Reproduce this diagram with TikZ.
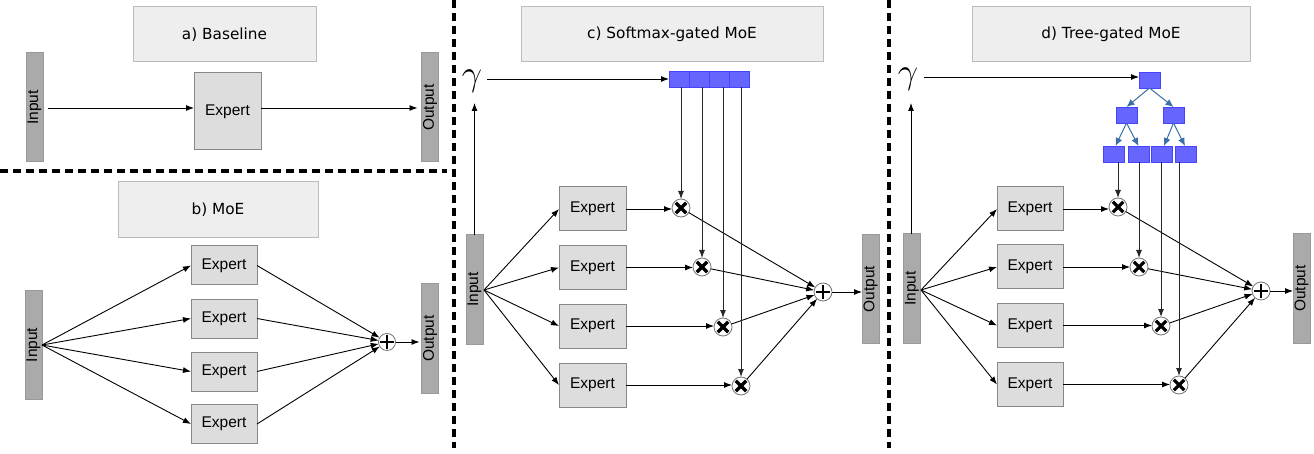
\documentclass[tikz,border=0pt]{standalone}
\usepackage{fontspec}
\setmainfont{Liberation Sans}
\newfontfamily\titlefont{DejaVu Sans}
\usetikzlibrary{arrows.meta}
\definecolor{titlefill}{HTML}{EEEEEE}
\definecolor{titledraw}{HTML}{BBBBBB}
\definecolor{expfill}{HTML}{DDDDDD}
\definecolor{expdraw}{HTML}{888888}
\definecolor{iofill}{HTML}{AAAAAA}
\definecolor{iodraw}{HTML}{999999}
\definecolor{gatefill}{HTML}{6666FF}
\definecolor{gatedraw}{HTML}{4444FF}
\definecolor{treearrow}{HTML}{3A6EA8}
\tikzset{
  titlebox/.style={draw=titledraw, fill=titlefill, line width=1pt, inner sep=0pt, outer sep=0pt,
    font=\titlefont\fontsize{15.3}{16}\selectfont},
  expertbox/.style={draw=expdraw, fill=expfill, line width=1pt, inner sep=0pt, outer sep=0pt,
    font=\fontsize{15.5}{16}\selectfont},
  iobar/.style={draw=iodraw, fill=iofill, line width=1pt, inner sep=0pt, outer sep=0pt,
    minimum width=17pt},
  iotext/.style={rotate=90, inner sep=0pt, font=\fontsize{15.5}{16}\selectfont},
  gatebox/.style={draw=gatedraw, fill=gatefill, line width=0.9pt, inner sep=0pt, outer sep=0pt,
    minimum width=20pt, minimum height=16pt},
  arr/.style={-{Latex[length=8pt,width=6pt]}, line width=0.9pt},
  tarr/.style={-{Latex[length=8pt,width=7pt]}, line width=1pt, draw=treearrow, color=treearrow},
  gline/.style={line width=1pt, draw=black!85},
  mulnode/.style={circle, draw=black!55, fill=white, line width=0.8pt, minimum size=18pt, inner sep=0pt, outer sep=0pt},
  plusnode/.style={circle, draw=black!55, fill=white, line width=0.8pt, minimum size=18pt, inner sep=0pt, outer sep=0pt},
  sepline/.style={line width=4pt, dash pattern=on 8pt off 5pt},
  gammatext/.style={inner sep=0pt, font=\Huge, scale=1.45},
}
\newcommand{\mulmark}[1]{\draw[line width=3.2pt] ([shift={(-5.2pt,-5.2pt)}]#1.center) -- ([shift={(5.2pt,5.2pt)}]#1.center) ([shift={(-5.2pt,5.2pt)}]#1.center) -- ([shift={(5.2pt,-5.2pt)}]#1.center);}
\newcommand{\plusmark}[1]{\draw[line width=2.8pt] ([xshift=-7pt]#1.center) -- ([xshift=7pt]#1.center) ([yshift=-7pt]#1.center) -- ([yshift=7pt]#1.center);}
\begin{document}
\begin{tikzpicture}[x=1pt,y=-1pt]
\useasboundingbox (0,0) rectangle (1314,454);
\fill[white] (0,0) rectangle (1314,454);

% separators
\draw[sepline] (0,171.5) coordinate (hs) -- (447,171.5) coordinate (he);
\draw[sepline] (454,0) coordinate (v1s) -- (454,448) coordinate (v1e);
\draw[sepline] (889,0) coordinate (v2s) -- (889,448) coordinate (v2e);

% ---------------- a) Baseline
\node[titlebox, minimum width=183pt, minimum height=55pt] (ta) at (224.5,34.5) {a) Baseline};
\node[iobar, minimum height=109pt] (ina) at (34.5,107.5) {};
\node[iotext] (inat) at (ina) {Input};
\node[expertbox, minimum width=67pt, minimum height=77pt] (ea) at (227.5,111.5) {Expert};
\node[iobar, minimum height=109pt] (outa) at (430,107.5) {};
\node[iotext] (outat) at (outa) {Output};
\draw[arr] ([xshift=5pt]ina.east |- 0,108) -- (ea.west |- 0,108);
\draw[arr] (ea.east |- 0,108) -- ([xshift=-4pt]outa.west |- 0,108);

% ---------------- b) MoE
\node[titlebox, minimum width=200pt, minimum height=56pt] (tb) at (218,210) {b) MoE};
\node[iobar, minimum height=108pt] (inb) at (33.5,345) {};
\node[iotext] (inbt) at (inb) {Input};
\coordinate (fb) at (42,345);
\foreach \i/\y in {1/265.5,2/318.5,3/371.5,4/424}{
  \node[expertbox, minimum width=66pt, minimum height=39pt] (eb\i) at (224,\y) {Expert};
}
\node[plusnode, minimum size=17pt] (pb) at (387,342) {};
\plusmark{pb}
\node[iobar, minimum height=109pt] (outb) at (430,338.5) {};
\node[iotext] (outbt) at (outb) {Output};
\foreach \i in {1,2,3,4}{
  \draw[arr] (fb) -- (eb\i.west);
  \draw[arr] (eb\i.east) -- (pb);
}
\draw[arr] (pb.east) -- ([xshift=-2pt]outb.west |- pb);

% ---------------- c) Softmax-gated MoE
\node[titlebox, minimum width=302pt, minimum height=55pt] (tc) at (672,34.5) {c) Softmax-gated MoE};
\node[gammatext] (gc) at (472,81) {$\gamma$};
\foreach \i/\x in {1/679,2/699,3/719,4/739.5}{
  \node[gatebox, minimum width=20pt] (gc\i) at (\x,79.5) {};
}
\draw[arr] (487,79) coordinate (gcs) -- (gc1.west |- gcs);
\node[iobar, minimum height=109pt] (inc) at (474.5,289.5) {};
\node[iotext] (inct) at (inc) {Input};
\draw[arr] (inc.north) -- (474.5,103) coordinate (gct);
\coordinate (fc) at (484,290);
\foreach \i/\y in {1/209,2/267.5,3/326,4/385}{
  \node[expertbox, minimum width=67pt, minimum height=44pt] (ec\i) at (592.5,\y) {Expert};
}
\node[mulnode] (mc1) at (681,208) {};
\node[mulnode] (mc2) at (702,267) {};
\node[mulnode] (mc3) at (723,327) {};
\node[mulnode] (mc4) at (741,386) {};
\foreach \i in {1,2,3,4}{\mulmark{mc\i}}
\node[plusnode] (pc) at (823,292) {};
\plusmark{pc}
\node[iobar, minimum height=108pt] (outc) at (870.5,289) {};
\node[iotext] (outct) at (outc) {Output};
\foreach \i in {1,2,3,4}{
  \draw[arr] (fc) -- (ec\i.west);
  \draw[arr] (ec\i.east) -- (mc\i.west |- ec\i.east);
  \draw[arr] (mc\i) -- (pc);
  \draw[arr, gline] (mc\i.north |- gc\i.south) -- (mc\i.north);
}
\draw[arr] (pc.east) -- (outc.west |- pc);

% ---------------- d) Tree-gated MoE
\node[titlebox, minimum width=278pt, minimum height=55pt] (td) at (1111,34.5) {d) Tree-gated MoE};
\node[gammatext] (gd) at (908,79) {$\gamma$};
\node[gatebox, minimum width=21pt] (r0) at (1149.5,80) {};
\node[gatebox, minimum width=21pt] (r1) at (1126.5,115) {};
\node[gatebox, minimum width=21pt] (r2) at (1173.5,115) {};
\node[gatebox, minimum width=21pt] (l1) at (1113.5,154) {};
\node[gatebox, minimum width=21pt] (l2) at (1138.5,154) {};
\node[gatebox, minimum width=21pt] (l3) at (1162,154) {};
\node[gatebox, minimum width=21pt] (l4) at (1186,154) {};
\draw[arr] (924,77) coordinate (gds) -- (r0.west |- gds);
\draw[tarr] (r0.south) -- (r1.north);
\draw[tarr] (r0.south) -- (r2.north);
\draw[tarr] (r1.south) -- ([xshift=2pt]l1.north);
\draw[tarr] (r1.south) -- (l2.north);
\draw[tarr] (r2.south) -- ([xshift=2pt]l3.north);
\draw[tarr] (r2.south) -- ([xshift=-1pt]l4.north);
\node[iobar, minimum height=109pt] (ind) at (912,288.5) {};
\node[iotext] (indt) at (ind) {Input};
\draw[arr] (911,234) coordinate (ids) -- (911,103) coordinate (gdt);
\coordinate (fd) at (921,290);
\foreach \i/\y in {1/209,2/267,3/325.5,4/384.5}{
  \node[expertbox, minimum width=66pt, minimum height=44pt] (ed\i) at (1030,\y) {Expert};
}
\node[mulnode] (md1) at (1118,207) {};
\node[mulnode] (md2) at (1139,267) {};
\node[mulnode] (md3) at (1161,326) {};
\node[mulnode] (md4) at (1179,385) {};
\foreach \i in {1,2,3,4}{\mulmark{md\i}}
\node[plusnode] (pd) at (1261,291) {};
\plusmark{pd}
\node[iobar, minimum height=109pt] (outd) at (1301.5,288.5) {};
\node[iotext] (outdt) at (outd) {Output};
\foreach \i in {1,2,3,4}{
  \draw[arr] (fd) -- (ed\i.west);
  \draw[arr] (ed\i.east) -- (md\i.west |- ed\i.east);
  \draw[arr] (md\i) -- (pd);
  \draw[arr, gline] (md\i.north |- l\i.south) -- (md\i.north);
}
\draw[arr] (pd.east) -- (outd.west |- pd);
\end{tikzpicture}
\end{document}
